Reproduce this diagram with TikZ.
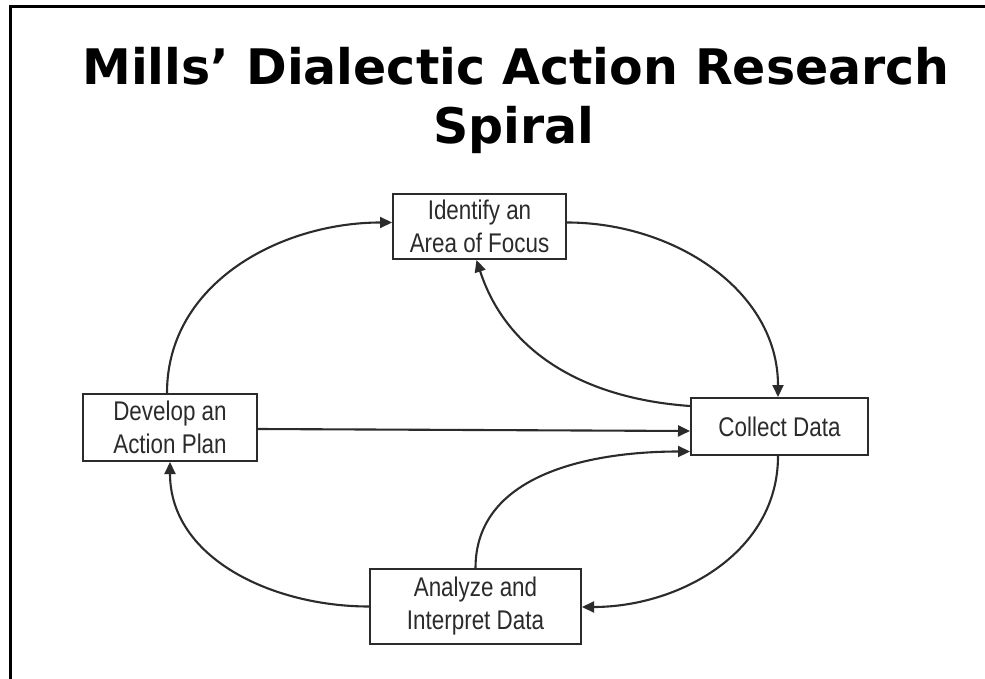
\documentclass[tikz,border=0pt]{standalone}
\usepackage{fontspec}
\setmainfont{Liberation Sans}
\newfontfamily\titlefont{DejaVu Sans}
\newfontfamily\boxfont[FakeStretch=0.83]{Liberation Sans}
\usetikzlibrary{arrows.meta}
\definecolor{ink}{HTML}{2B2B2B}
\begin{document}
\begin{tikzpicture}[x=1pt,y=1pt,
  stage/.style={draw=ink, line width=2pt, fill=white, inner sep=0pt,
    align=center, text=ink, font=\boxfont\fontsize{27}{33}\selectfont},
  flow/.style={draw=ink, line width=2.1pt,
    -{Triangle[length=12pt,width=11pt]}},
  heading/.style={anchor=base, font=\titlefont\bfseries\fontsize{49}{58}\selectfont}]
  \useasboundingbox (0,0) rectangle (985,-679);
  % frame on the left and top edges
  \draw[line width=3pt] (10,-679) -- (10,-7) -- (985,-7);

  % title
  \node[heading] (title1) at (516,-85) {Mills’ Dialectic Action Research};
  \node[heading] (title2) at (514,-144) {Spiral};

  % stages of the cycle
  \node[stage, minimum width=173pt, minimum height=65pt] (ident) at (479.5,-226.5)
    {Identify an\\Area of Focus};
  \node[stage, minimum width=174pt, minimum height=67pt] (develop) at (170,-427.5)
    {Develop an\\Action Plan};
  \node[stage, minimum width=177pt, minimum height=57pt] (collect) at (779.5,-426.5)
    {Collect Data};
  \node[stage, minimum width=211pt, minimum height=75pt] (analyze) at (475.5,-606.5)
    {Analyze and\\Interpret Data};

  % connectors
  \draw[flow] ([xshift=-3pt]develop.north) to[out=90, in=180] ([yshift=4pt]ident.west);
  \draw[flow] ([yshift=4pt]ident.east) to[out=0, in=90] ([xshift=-1.5pt]collect.north);
  \draw[flow] ([yshift=20.5pt]collect.west) to[out=176, in=-72] ([xshift=-3pt]ident.south);
  \draw[flow] ([yshift=-1.5pt]develop.east) -- ([yshift=-4.5pt]collect.west);
  \draw[flow] (analyze.north) to[out=90, in=180] ([yshift=-25pt]collect.west);
  \draw[flow] ([xshift=-1.5pt]collect.south) to[out=-90, in=0] ([yshift=-0.5pt]analyze.east);
  \draw[flow] (analyze.west) to[out=180, in=-90] (develop.south);
\end{tikzpicture}
\end{document}
